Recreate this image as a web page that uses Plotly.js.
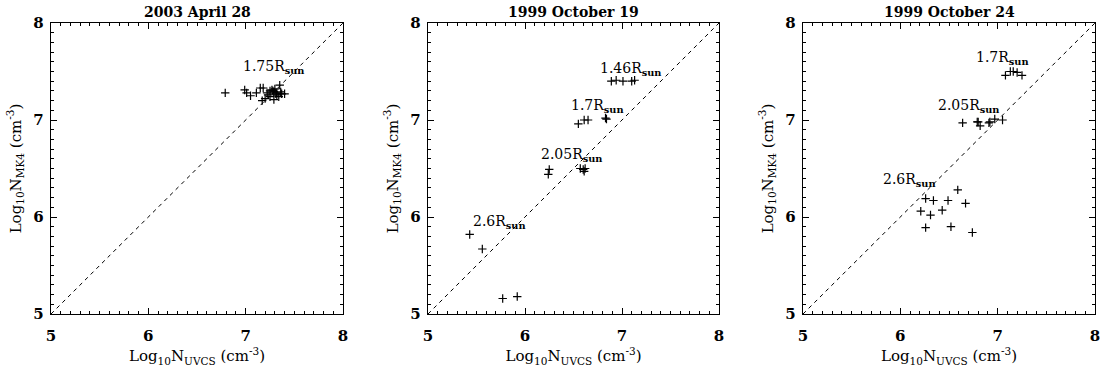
<!DOCTYPE html>
<html>
<head>
<meta charset="utf-8">
<script src="https://cdn.plot.ly/plotly-3.0.1.min.js"></script>
<style>html,body{margin:0;padding:0;background:#fff;}#chart{width:1101px;height:367px;}</style>
</head>
<body>
<div id="chart"></div>
<script>
// Panel titles
const panelTitles = ["2003 April 28", "1999 October 19", "1999 October 24"];

// Panel 1: 2003 April 28
const p1_uvcs = [6.79, 6.99, 7.01, 7.05, 7.11, 7.15, 7.18, 7.17, 7.20, 7.22, 7.25, 7.27, 7.29, 7.30, 7.32, 7.34, 7.29, 7.36, 7.37, 7.40, 7.35, 7.25, 7.32, 7.28, 7.31, 7.23];
const p1_mk4  = [7.28, 7.31, 7.28, 7.25, 7.28, 7.33, 7.33, 7.20, 7.22, 7.28, 7.30, 7.31, 7.29, 7.32, 7.28, 7.24, 7.21, 7.29, 7.27, 7.27, 7.36, 7.24, 7.26, 7.30, 7.27, 7.26];

// Panel 2: 1999 October 19
const p2_uvcs = [5.43, 5.56, 5.77, 5.92, 6.24, 6.25, 6.57, 6.60, 6.62, 6.61, 6.55, 6.61, 6.65, 6.83, 6.84, 6.89, 6.94, 7.01, 7.10, 7.13];
const p2_mk4  = [5.82, 5.67, 5.16, 5.18, 6.44, 6.49, 6.50, 6.49, 6.50, 6.47, 6.96, 7.00, 7.00, 7.02, 7.01, 7.40, 7.41, 7.40, 7.40, 7.41];

// Panel 3: 1999 October 24
const p3_uvcs = [7.08, 7.13, 7.16, 7.20, 7.25, 6.64, 6.79, 6.80, 6.82, 6.91, 6.92, 6.97, 7.05, 6.26, 6.34, 6.49, 6.59, 6.67, 6.21, 6.31, 6.43, 6.26, 6.52, 6.74];
const p3_mk4  = [7.46, 7.50, 7.50, 7.49, 7.46, 6.97, 6.98, 6.98, 6.94, 6.97, 6.98, 7.01, 7.00, 6.19, 6.17, 6.17, 6.28, 6.14, 6.06, 6.02, 6.07, 5.89, 5.90, 5.84];

// One-to-one reference line
const diag = [5, 8];

// Height labels per panel
const labelText = [
  ["1.75R<sub><b>sun</b></sub>"],
  ["1.46R<sub><b>sun</b></sub>", "1.7R<sub><b>sun</b></sub>", "2.05R<sub><b>sun</b></sub>", "2.6R<sub><b>sun</b></sub>"],
  ["1.7R<sub><b>sun</b></sub>", "2.05R<sub><b>sun</b></sub>", "2.6R<sub><b>sun</b></sub>"]
];
const labelX = [[7.29], [7.09, 6.75, 6.48, 5.74], [7.05, 6.70, 6.09]];
const labelY = [[7.55], [7.53, 7.14, 6.64, 5.95], [7.64, 7.14, 6.38]];

const FONT = "DejaVu Serif";
const xs = [p1_uvcs, p2_uvcs, p3_uvcs];
const ys = [p1_mk4, p2_mk4, p3_mk4];
const suffix = ["", "2", "3"];
const domains = [[51/1101, 343/1101], [428/1101, 719/1101], [803/1101, 1095/1101]];

const traces = [];
const annotations = [];
const layout = {
  width: 1101, height: 367,
  margin: {l: 0, r: 0, t: 23, b: 53},
  paper_bgcolor: "#fff", plot_bgcolor: "#fff",
  showlegend: false,
  font: {family: FONT, color: "#000", size: 14}
};

for (let i = 0; i < 3; i++) {
  const s = suffix[i];
  traces.push({
    x: diag, y: diag, xaxis: "x" + s, yaxis: "y" + s,
    mode: "lines", line: {color: "#000", width: 1, dash: "4px,4px"},
    hoverinfo: "skip"
  });
  traces.push({
    x: xs[i], y: ys[i], xaxis: "x" + s, yaxis: "y" + s,
    mode: "markers", type: "scatter",
    marker: {symbol: "cross-thin-open", size: 6, color: "#000", line: {color: "#000", width: 1.2}}
  });
  const axBase = {
    range: [5, 8], dtick: 1, tick0: 5, ticks: "inside", ticklen: 6, tickwidth: 1,
    tickcolor: "#000", showline: true, linecolor: "#000", linewidth: 1.2, mirror: "ticks",
    showgrid: false, zeroline: false,
    minor: {ticks: "inside", dtick: 0.1, ticklen: 3, tickcolor: "#000", tickwidth: 1, showgrid: false},
    tickfont: {family: FONT, size: 15, color: "#000", weight: "bold"}
  };
  layout["xaxis" + s] = Object.assign({}, axBase, {
    domain: domains[i], anchor: "y" + s, ticklabelstandoff: 8,
    title: {text: "Log<sub>10</sub>N<sub>UVCS</sub> (cm<sup>-3</sup>)", font: {family: FONT, size: 15, color: "#000"}, standoff: 4}
  });
  layout["yaxis" + s] = Object.assign({}, axBase, {
    domain: [0, 1], anchor: "x" + s, ticklabelstandoff: 3,
    title: {text: "Log<sub>10</sub>N<sub>MK4</sub> (cm<sup>-3</sup>)", font: {family: FONT, size: 15, color: "#000"}, standoff: 8}
  });
  annotations.push({
    text: panelTitles[i], xref: "paper", yref: "paper",
    x: (domains[i][0] + domains[i][1]) / 2, y: 1, xanchor: "center", yanchor: "bottom",
    yshift: 1, showarrow: false, font: {family: FONT, size: 14, color: "#000", weight: "bold"}
  });
  for (let j = 0; j < labelText[i].length; j++) {
    annotations.push({
      text: labelText[i][j], xref: "x" + s, yref: "y" + s,
      x: labelX[i][j], y: labelY[i][j], xanchor: "center", yanchor: "middle",
      showarrow: false, font: {family: FONT, size: 14, color: "#000"}
    });
  }
}
layout.annotations = annotations;

Plotly.newPlot("chart", traces, layout, {displayModeBar: false, staticPlot: true});
</script>
</body>
</html>
